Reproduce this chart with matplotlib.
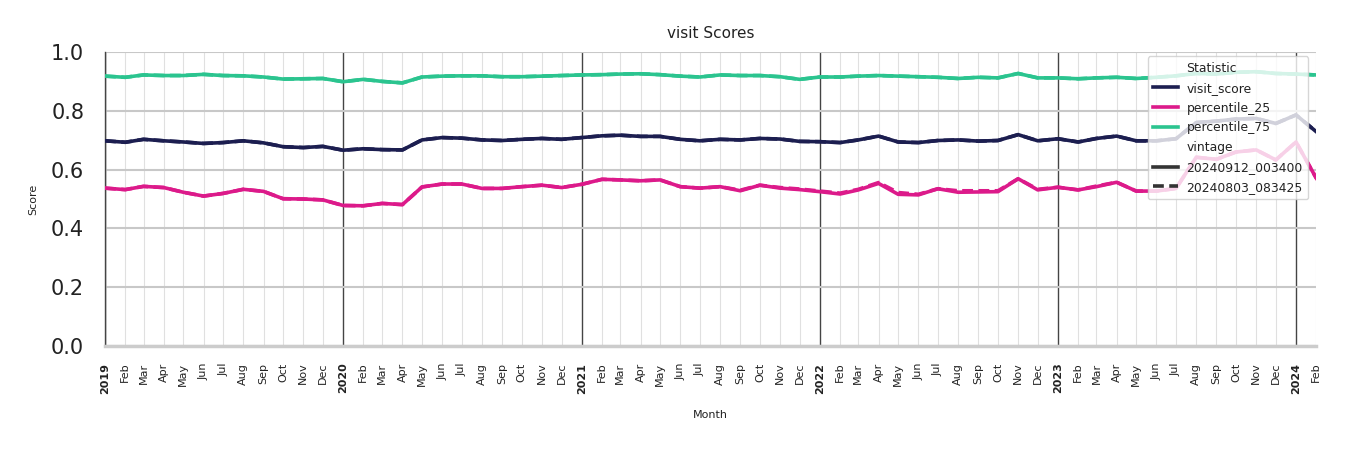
import numpy as np
import pandas as pd
import matplotlib
matplotlib.use("Agg")
import matplotlib.pyplot as plt
from matplotlib.lines import Line2D

# months Jan 2019 .. Feb 2024
months = pd.date_range("2019-01-01", "2024-02-01", freq="MS")

# vintage 20240912_003400
visit_score = [
    0.698, 0.693, 0.703, 0.698, 0.694, 0.689, 0.692, 0.698, 0.691, 0.678, 0.675, 0.679,
    0.666, 0.671, 0.668, 0.667, 0.701, 0.709, 0.707, 0.701, 0.699, 0.703, 0.706, 0.703,
    0.709, 0.715, 0.717, 0.713, 0.713, 0.703, 0.698, 0.703, 0.701, 0.706, 0.704, 0.696,
    0.695, 0.692, 0.701, 0.714, 0.694, 0.692, 0.699, 0.701, 0.697, 0.699, 0.719, 0.698,
    0.705, 0.694, 0.706, 0.714, 0.698, 0.698, 0.705, 0.760, 0.765, 0.772, 0.774, 0.757,
    0.786, 0.729]
percentile_25 = [
    0.537, 0.532, 0.543, 0.539, 0.523, 0.510, 0.519, 0.533, 0.526, 0.501, 0.500, 0.497,
    0.478, 0.477, 0.485, 0.481, 0.541, 0.551, 0.551, 0.536, 0.536, 0.542, 0.547, 0.539,
    0.550, 0.567, 0.565, 0.562, 0.565, 0.542, 0.537, 0.542, 0.528, 0.547, 0.537, 0.532,
    0.525, 0.517, 0.531, 0.553, 0.516, 0.514, 0.535, 0.523, 0.524, 0.525, 0.569, 0.531,
    0.540, 0.531, 0.542, 0.557, 0.527, 0.527, 0.536, 0.642, 0.635, 0.660, 0.667, 0.633,
    0.694, 0.571]
percentile_75 = [
    0.918, 0.914, 0.922, 0.920, 0.920, 0.924, 0.920, 0.919, 0.915, 0.908, 0.909, 0.910,
    0.899, 0.907, 0.900, 0.895, 0.915, 0.918, 0.919, 0.919, 0.916, 0.916, 0.918, 0.920,
    0.922, 0.923, 0.925, 0.926, 0.923, 0.918, 0.915, 0.922, 0.920, 0.920, 0.916, 0.907,
    0.915, 0.915, 0.918, 0.920, 0.918, 0.916, 0.914, 0.910, 0.914, 0.912, 0.927, 0.912,
    0.912, 0.909, 0.912, 0.914, 0.910, 0.914, 0.919, 0.927, 0.925, 0.931, 0.933, 0.927,
    0.925, 0.922]

# vintage 20240803_083425 (mostly overlaps the newer one)
visit_score_old = visit_score
percentile_75_old = percentile_75
percentile_25_old = [
    0.537, 0.532, 0.543, 0.539, 0.523, 0.510, 0.519, 0.533, 0.526, 0.501, 0.500, 0.497,
    0.478, 0.477, 0.485, 0.481, 0.541, 0.551, 0.551, 0.536, 0.536, 0.542, 0.547, 0.539,
    0.550, 0.567, 0.565, 0.562, 0.565, 0.542, 0.537, 0.542, 0.530, 0.547, 0.539, 0.534,
    0.527, 0.520, 0.533, 0.556, 0.522, 0.516, 0.535, 0.528, 0.528, 0.528, 0.569, 0.533,
    0.540, 0.531, 0.544, 0.557, 0.527, 0.527, 0.536, 0.642, 0.635, 0.660, 0.667, 0.633,
    0.694, 0.571]

stat_names = ["visit_score", "percentile_25", "percentile_75"]
stat_colors = ["#1c1e50", "#dc1a8a", "#2bc48f"]
vintages = ["20240912_003400", "20240803_083425"]

fig = plt.figure(figsize=(13.5, 4.5), dpi=100)
ax = fig.add_axes([0.0778, 0.2311, 0.8972, 0.6533])

new_series = [visit_score, percentile_25, percentile_75]
old_series = [visit_score_old, percentile_25_old, percentile_75_old]
for vals, col in zip(old_series, stat_colors):
    ax.plot(months, vals, color=col, lw=2.6, ls=(0, (3, 1.5)), zorder=3)
for vals, col in zip(new_series, stat_colors):
    ax.plot(months, vals, color=col, lw=2.6, ls="-", zorder=4)

ax.set_xlim(months[0], months[-1])
ax.set_ylim(0, 1.0)

# grids
yt = np.arange(0, 1.01, 0.2)
ax.set_yticks(yt)
ax.set_yticklabels([f"{v:.1f}" for v in yt], fontsize=15, color="#222222")
ax.yaxis.grid(True, color="#c8c8c8", lw=1.5, zorder=0)
ax.set_xticks(months)
labels = [str(d.year) if d.month == 1 else d.strftime("%b") for d in months]
ax.set_xticklabels(labels, rotation=90, fontsize=8, color="#222222")
for t, d in zip(ax.get_xticklabels(), months):
    if d.month == 1:
        t.set_fontweight("bold")
for d in months:
    if d.month == 1:
        ax.axvline(d, color="#444444", lw=1.0, zorder=1)
    else:
        ax.axvline(d, color="#e0e0e0", lw=0.8, zorder=0)
ax.tick_params(axis="x", length=0, pad=12)
ax.tick_params(axis="y", length=0, pad=15)

for s in ["top", "right"]:
    ax.spines[s].set_visible(False)
ax.spines["left"].set_color("#444444")
ax.spines["left"].set_linewidth(1.0)
ax.spines["bottom"].set_color("#cccccc")
ax.spines["bottom"].set_linewidth(2.5)

ax.set_title("visit Scores", fontsize=11, color="#222222", pad=10)
ax.set_ylabel("Score", fontsize=8, color="#222222", labelpad=9)
ax.set_xlabel("Month", fontsize=8, color="#222222", labelpad=12)

# legend in seaborn style with group headers
blank = Line2D([], [], color="none")
handles = [blank] + [Line2D([], [], color=c, lw=2.6) for c in stat_colors] + [blank] + [
    Line2D([], [], color="#333333", lw=2.6, ls="-"),
    Line2D([], [], color="#333333", lw=2.6, ls=(0, (3, 1.5)))]
texts = ["Statistic"] + stat_names + ["vintage"] + vintages
leg = ax.legend(handles, texts, loc="upper right", bbox_to_anchor=(0.9985, 1.006),
                fontsize=8.9, framealpha=0.8, edgecolor="#cccccc", handlelength=2.0,
                labelspacing=0.55, borderpad=0.45, handletextpad=0.7)
leg.set_zorder(10)
for t in leg.get_texts():
    t.set_color("#222222")

fig.savefig("out.png", dpi=100)
